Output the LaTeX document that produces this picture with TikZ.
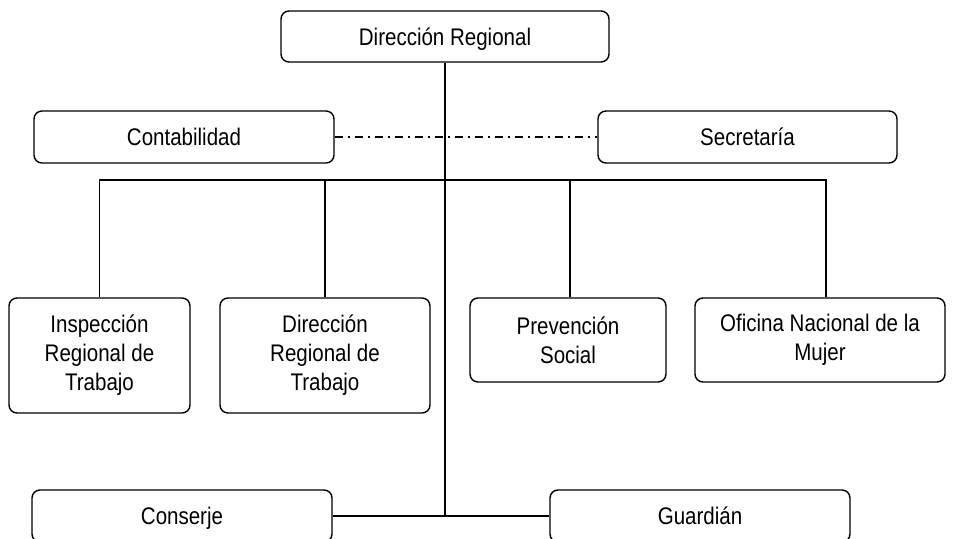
\documentclass[tikz,border=0pt]{standalone}
\usepackage{fontspec}
\setmainfont{Liberation Sans}[FakeStretch=0.855]
\begin{document}
\begin{tikzpicture}[x=1pt,y=-1pt,
  unit/.style={draw, rounded corners=8pt, line width=1.4pt, align=center,
    inner sep=0pt, font=\fontsize{24}{29}\selectfont},
  oneline/.style={unit, text height=17pt, text depth=0pt},
  link/.style={line width=1.3pt},
  trunk/.style={line width=2.2pt},
  staff/.style={line width=1.3pt, dash pattern=on 8pt off 5pt on 2pt off 5pt}]
\useasboundingbox (0,0) rectangle (955,538);

% head and staff units
\node[oneline, minimum width=328pt, minimum height=51pt] (dir) at (445,36.5) {Dirección Regional};
\node[oneline, minimum width=300pt, minimum height=52pt] (cont) at (184,137) {Contabilidad};
\node[oneline, minimum width=299pt, minimum height=52pt] (sec) at (747.5,137) {Secretaría};

% operating departments
\node[unit, minimum width=181pt, minimum height=115pt] (insp) at (99.5,355.5) {Inspección\\Regional de\\Trabajo};
\node[unit, minimum width=210pt, minimum height=115pt] (dirt) at (325,355.5) {Dirección\\Regional de\\Trabajo};
\node[unit, minimum width=196pt, minimum height=84pt] (prev) at (568,340) {Prevención\\Social};
\node[unit, minimum width=250pt, minimum height=84pt] (ofi) at (820,340) {Oficina Nacional de la\\Mujer};

% support services
\node[oneline, minimum width=300pt, minimum height=52pt] (cons) at (182,516) {Conserje};
\node[oneline, minimum width=300pt, minimum height=52pt] (guar) at (700,516) {Guardián};

\coordinate (bus) at (445,180);
\coordinate (foot) at (445,516);

% connectors
\draw[staff] (cont.east) -- (sec.west);
\draw[link] (insp.north) |- (bus);
\draw[link] ([xshift=6pt]ofi.north) |- (bus);
\draw[link] (dirt.north) -- (dirt.north |- bus);
\draw[link] ([xshift=2pt]prev.north) -- ([xshift=2pt]prev.north |- bus);
\draw[link] (cons.east) -- (guar.west);
\draw[trunk] (dir.south) -- (foot);
\end{tikzpicture}
\end{document}
